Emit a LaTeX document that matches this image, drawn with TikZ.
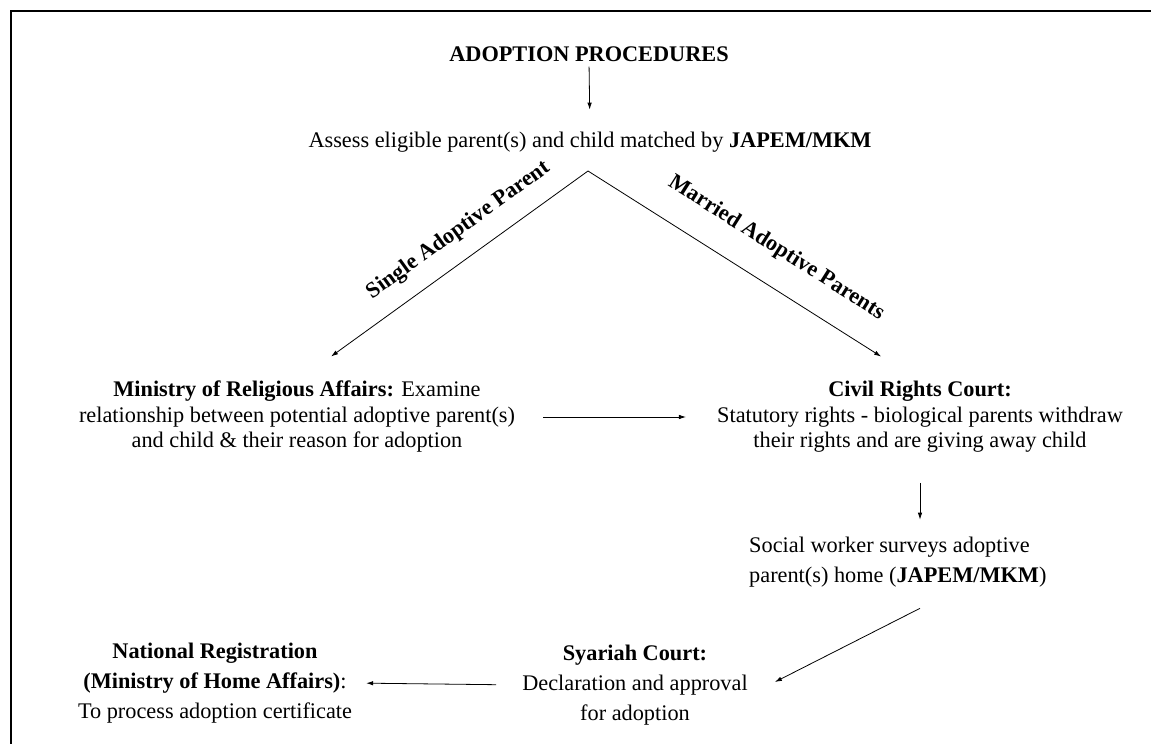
\documentclass[tikz,border=0pt]{standalone}
\usepackage{fontspec}
\setmainfont{Liberation Serif}
\usetikzlibrary{arrows.meta, positioning, calc}

\begin{document}
\begin{tikzpicture}[
  x=1pt, y=-1pt,
  txt/.style={font=\fontsize{22.3}{25.5}\selectfont, align=center, inner sep=0pt},
  txtwide/.style={font=\fontsize{22.3}{30}\selectfont, align=center, inner sep=0pt},
  lbl/.style={font=\fontsize{22.3}{25.5}\selectfont\bfseries, inner sep=0pt},
  arrowline/.style={-{Latex[length=7pt, width=4.5pt]}, line width=0.8pt}
]
  \useasboundingbox (0,0) rectangle (1151,744);
  % frame
  \draw[line width=2pt] (1151,11) -- (11,11) -- (11,744);

  % TOP
  \node[lbl] (title) at (589,54) {ADOPTION PROCEDURES};
  \node[txt] (assess) at (590,142) {Assess eligible parent(s) and child matched by \textbf{JAPEM/MKM}};
  \coordinate (apex) at (588,171);
  \draw[arrowline, shorten <=5pt, shorten >=22pt] (title.south) -- (assess.north);

  % MIDDLE
  \node[txt] (ministry) at (297,417) {\textbf{Ministry of Religious Affairs:} Examine\\
    relationship between potential adoptive parent(s)\\and child \& their reason for adoption};
  \node[txt] (civil) at (920,417) {\textbf{Civil Rights Court:}\\
    Statutory rights - biological parents withdraw\\their rights and are giving away child};

  \draw[arrowline, shorten >=42pt] (apex) -- node[lbl, sloped, above=17pt, pos=0.39] {Single Adoptive Parent} (ministry.north);
  \draw[arrowline, shorten >=46pt] (apex) -- node[lbl, sloped, above=25pt, pos=0.51] {Married Adoptive Parents} (civil.north);
  \draw[arrowline, shorten <=28pt, shorten >=31pt] (ministry.east) -- (civil.west);

  % BOTTOM
  \node[txtwide, align=left, anchor=west] (social) at (749,562) {Social worker surveys adoptive\\
    parent(s) home (\textbf{JAPEM/MKM})};
  \node[txtwide] (syariah) at (635,685) {\textbf{Syariah Court:}\\Declaration and approval\\for adoption};
  \node[txtwide] (national) at (215,683) {\textbf{National Registration}\\
    \textbf{(Ministry of Home Affairs)}:\\To process adoption certificate};

  \draw[arrowline, shorten <=30pt, shorten >=17pt] (civil.south) -- (civil.south |- social.north);
  \draw[arrowline] ($(social.south -| civil.south)+(0,21)$) -- ($(syariah.east)+(27,-3)$);
  \draw[arrowline, shorten <=26pt, shorten >=14pt] (syariah.west) -- (national.east);
\end{tikzpicture}
\end{document}
